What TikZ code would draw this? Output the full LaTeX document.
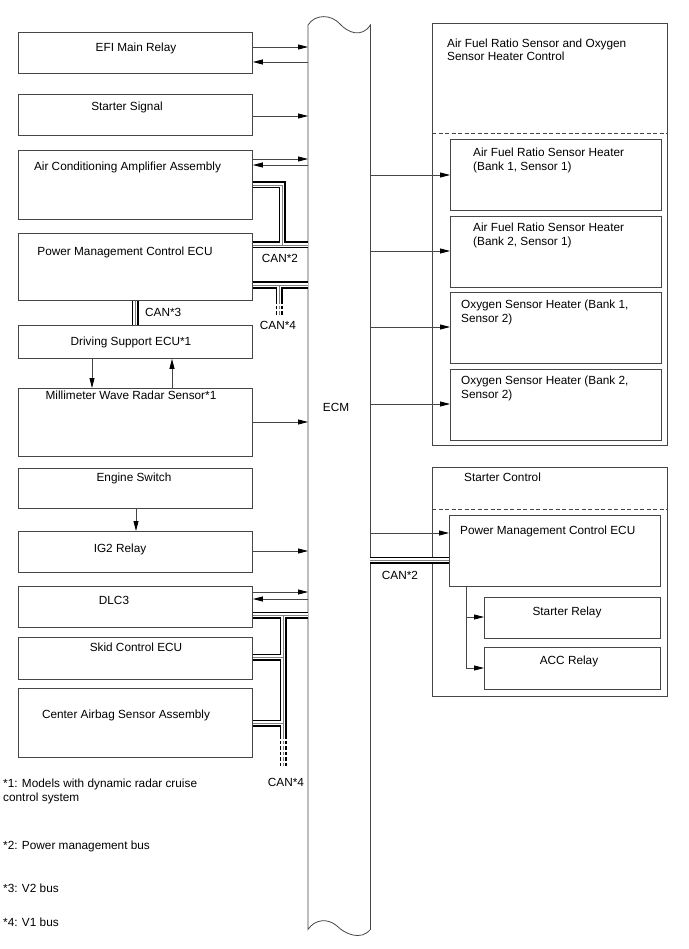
\documentclass[tikz,border=0pt]{standalone}
\usepackage{fontspec}
\setmainfont{Liberation Sans}
\usetikzlibrary{arrows.meta}
\definecolor{lc}{RGB}{70,70,70}
\newcommand\mybox[5]{\node[box, anchor=north west, minimum width={(#4)-(#2)}, minimum height={(#5)-(#3)}] (#1) at (#2,#3) {};}
\newcommand\tc[4]{\node[txt, anchor=base] (#1) at ({#2},{#3+4.2}) {#4};}
\newcommand\tl[4]{\node[txt, anchor=base west] (#1) at ({#2},{#3+4.2}) {#4};}
\newcommand\bus[1]{\draw[busout] #1; \draw[busin] #1; \draw[busmid] #1;}
\newcommand\dbus[1]{\draw[busout, dash pattern=on 3.5pt off 2pt] #1; \draw[busin, dash pattern=on 3.5pt off 2pt] #1; \draw[busmid, dash pattern=on 3.5pt off 2pt] #1;}
\begin{document}
\begin{tikzpicture}[x=1pt,y=-1pt,
  box/.style={draw=lc, line width=0.9pt, rectangle, inner sep=0pt},
  txt/.style={font=\fontsize{11.8}{14}\selectfont, inner sep=0pt, text=black},
  arr/.style={draw=lc, line width=0.8pt, -{Triangle[length=10pt,width=5pt,fill=black,color=black]}},
  ln/.style={draw=lc, line width=0.8pt},
  busout/.style={draw=black, line width=7pt, line join=miter, line cap=butt},
  busin/.style={draw=white, line width=4.4pt, line join=miter, line cap=butt},
  busmid/.style={draw=gray, line width=0.9pt, line join=miter, line cap=butt}]
\useasboundingbox (0,0) rectangle (688,949);
\fill[white] (0,0) rectangle (688,949);

% ECM
\node[inner sep=0pt, anchor=north west, minimum width=62pt, minimum height=904pt] (ecm) at (308,25) {};
\draw[ln] (ecm.north west) .. controls (315,14) and (331,14) .. (340,24) .. controls (348,33) and (362,38) .. (ecm.north east)
  -- (ecm.south east) .. controls (361,941) and (345,934) .. (337,926) .. controls (328,918) and (315,919) .. (ecm.south west) -- cycle;
\tc{ecmt}{336}{407}{ECM}

% left boxes
\mybox{efi}{18}{32}{252}{73}
\mybox{ss}{18}{94}{252}{135}
\mybox{ac}{18}{150}{252}{219}
\mybox{pmc}{18}{233}{252}{300}
\mybox{dse}{18}{325}{252}{358}
\mybox{mwr}{18}{388}{252}{456}
\mybox{es}{18}{468}{252}{508}
\mybox{ig2}{18}{531}{252}{572}
\mybox{dlc}{18}{586}{252}{627}
\mybox{skid}{18}{637}{252}{679}
\mybox{cab}{18}{688}{252}{757}

\tc{efit}{136}{47}{EFI Main Relay}
\tc{sst}{127}{106}{Starter Signal}
\tc{act}{127.5}{166}{Air Conditioning Amplifier Assembly}
\tc{pmct}{125}{251}{Power Management Control ECU}
\tc{dset}{131}{341}{Driving Support ECU*1}
\tc{mwrt}{131}{395}{Millimeter Wave Radar Sensor*1}
\tc{est}{134}{477}{Engine Switch}
\tc{ig2t}{120}{548}{IG2 Relay}
\tc{dlct}{114}{600}{DLC3}
\tc{skidt}{136}{647}{Skid Control ECU}
\tc{cabt}{126}{714}{Center Airbag Sensor Assembly}

% right boxes
\mybox{afr}{432}{23}{667}{445}
\draw[ln, dash pattern=on 4pt off 2.5pt] (afr.west |- 0,133) -- (afr.east |- 0,133);
\mybox{h1}{450}{139}{661}{210}
\mybox{h2}{450}{216}{661}{287}
\mybox{h3}{450}{292}{661}{363}
\mybox{h4}{450}{369}{661}{440}
\tl{afrt1}{447}{43}{Air Fuel Ratio Sensor and Oxygen}
\tl{afrt2}{447}{56}{Sensor Heater Control}
\tl{h1t1}{473}{152}{Air Fuel Ratio Sensor Heater}
\tl{h1t2}{473}{166}{(Bank 1, Sensor 1)}
\tl{h2t1}{473}{227}{Air Fuel Ratio Sensor Heater}
\tl{h2t2}{473}{241}{(Bank 2, Sensor 1)}
\tl{h3t1}{461}{304}{Oxygen Sensor Heater (Bank 1,}
\tl{h3t2}{461}{318}{Sensor 2)}
\tl{h4t1}{461}{380}{Oxygen Sensor Heater (Bank 2,}
\tl{h4t2}{461}{394}{Sensor 2)}

\mybox{stc}{432}{467}{667}{696}
\draw[ln, dash pattern=on 4pt off 2.5pt] (stc.west |- 0,509) -- (stc.east |- 0,509);
\mybox{spmc}{449}{515}{660}{586}
\mybox{srel}{484}{597}{660}{638}
\mybox{acc}{484}{647}{660}{689}
\tl{stct}{464}{477}{Starter Control}
\tl{spmct}{460}{530}{Power Management Control ECU}
\tc{srelt}{567}{611}{Starter Relay}
\tc{acct}{569}{660}{ACC Relay}

% arrows left <-> ECM
\draw[arr] (efi.east |- 0,47) -- (ecm.west |- 0,47);
\draw[arr] (ecm.west |- 0,62) -- (efi.east |- 0,62);
\draw[arr] (ss.east |- 0,116) -- (ecm.west |- 0,116);
\draw[arr] (ac.east |- 0,159) -- (ecm.west |- 0,159);
\draw[arr] (ecm.west |- 0,165) -- (ac.east |- 0,165);
\draw[arr] (mwr.east |- 0,422) -- (ecm.west |- 0,422);
\draw[arr] (ig2.east |- 0,551) -- (ecm.west |- 0,551);
\draw[arr] (dlc.east |- 0,592) -- (ecm.west |- 0,592);
\draw[arr] (ecm.west |- 0,599) -- (dlc.east |- 0,599);
\draw[arr] (dse.south -| 92,0) -- (mwr.north -| 92,0);
\draw[arr] (mwr.north -| 172,0) -- (dse.south -| 172,0);
\draw[arr] (es.south -| 136,0) -- (ig2.north -| 136,0);

% arrows ECM -> right
\draw[arr] (ecm.east |- 0,175) -- (h1.west |- 0,175);
\draw[arr] (ecm.east |- 0,251) -- (h2.west |- 0,251);
\draw[arr] (ecm.east |- 0,327) -- (h3.west |- 0,327);
\draw[arr] (ecm.east |- 0,404) -- (h4.west |- 0,404);
\draw[arr] (ecm.east |- 0,533) -- (spmc.west |- 0,533);

% starter relays
\coordinate (sbr) at (466,617);
\draw[ln] (spmc.south -| 466,0) -- (sbr);
\draw[arr] (sbr) |- (srel.west |- 0,617);
\draw[arr] (sbr) |- (acc.west |- 0,668);

% buses
\coordinate (acb) at (282,185);
\coordinate (c4a) at (279,300);
\coordinate (c4ae) at (279,316);
\bus{(ac.east |- 0,185) -- (acb) -- (282,245) (pmc.east |- 0,245) -- (ecm.west |- 0,245) (pmc.east |- 0,285) -- (ecm.west |- 0,285) (279,285) -- (c4a)}
\dbus{(c4a) -- (c4ae)}
\bus{(pmc.south -| 135,0) -- (dse.north -| 135,0)}
\coordinate (c4b) at (283,735);
\coordinate (c4be) at (283,767);
\bus{(dlc.east |- 0,615) -- (ecm.west |- 0,615) (283,615) -- (c4b) (skid.east |- 0,657) -- (283,657) (cab.east |- 0,723) -- (283,723)}
\dbus{(c4b) -- (c4be)}
\bus{(ecm.east |- 0,560) -- (spmc.west |- 0,560)}

\tc{can2a}{280}{258}{CAN*2}
\tl{can3}{145}{312}{CAN*3}
\tc{can4a}{278}{325}{CAN*4}
\tc{can2b}{400}{575}{CAN*2}
\tc{can4b}{286}{782}{CAN*4}

% footnotes
\tl{fn1a}{3}{783}{*1: Models with dynamic radar cruise}
\tl{fn1b}{3}{797}{control system}
\tl{fn2}{3}{845}{*2: Power management bus}
\tl{fn3}{3}{888}{*3: V2 bus}
\tl{fn4}{3}{922}{*4: V1 bus}
\end{tikzpicture}
\end{document}
